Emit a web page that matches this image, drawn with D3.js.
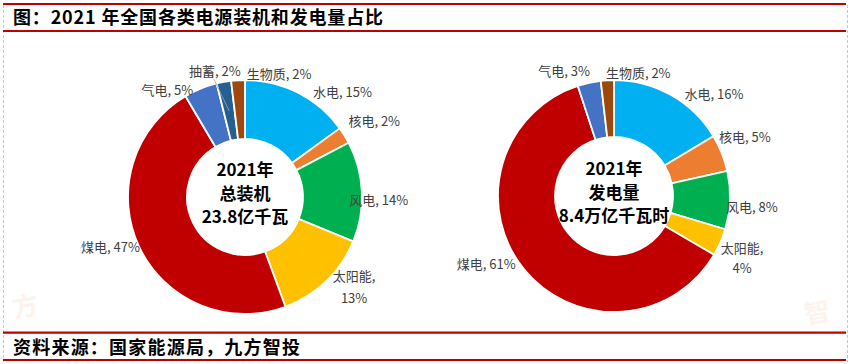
<!DOCTYPE html>
<html><head><meta charset="utf-8">
<script src="https://cdn.jsdelivr.net/npm/d3@7/dist/d3.min.js"></script>
<style>html,body{margin:0;padding:0;background:#fff;}svg{display:block;}</style>
</head><body>
<svg id="c" width="850" height="364"></svg>
<script>
// ---- data ----
const categoriesCap = ["水电","核电","风电","太阳能","煤电","气电","抽蓄","生物质"];
const valuesCap     = [15.05, 2.3, 13.9, 13.2, 47.2, 4.6, 2.0, 1.9];
const categoriesGen = ["水电","核电","风电","太阳能","煤电","气电","生物质"];
const valuesGen     = [16.2, 5.1, 8.0, 3.8, 60.8, 3.2, 1.8];
const centerCap = ["2021年","总装机","23.8亿千瓦"];
const centerGen = ["2021年","发电量","8.4万亿千瓦时"];
const titleText = "图：2021 年全国各类电源装机和发电量占比";
const sourceText = "资料来源：国家能源局，九方智投";

// ---- style / layout ----
const colorMap = {"水电":"#00B0F0","核电":"#ED7D31","风电":"#00B050","太阳能":"#FFC000",
  "煤电":"#C00000","气电":"#4472C4","抽蓄":"#255E91","生物质":"#9E480E"};
const nudgeCap = {"水电":[8.4,11.4],"核电":[-8,-8],"风电":[-26.6,8.9],"太阳能":[18.2,-5.4,22],
  "煤电":[13.3,-6.5],"气电":[-2.2,13.6],"抽蓄":[-6.4,1.9],"生物质":[9.5,7.1]};
const nudgeGen = {"水电":[6.6,10.2],"核电":[-15.7,-11.1],"风电":[-17.9,5.5],"太阳能":[8.9,8.7,20],
  "煤电":[2.9,-14],"气电":[3.8,1.3],"生物质":[-0.7,6.5]};

const svg = d3.select("#c");
const FONT = "'Noto Sans CJK SC','Noto Sans',sans-serif";

// frame
svg.append("line").attr("x1",3.5).attr("x2",3.5).attr("y1",5).attr("y2",362)
  .attr("stroke","#c8c8c8").attr("stroke-dasharray","3,2").attr("stroke-width",1);
svg.append("line").attr("x1",847.5).attr("x2",847.5).attr("y1",5).attr("y2",362)
  .attr("stroke","#c8c8c8").attr("stroke-dasharray","3,2").attr("stroke-width",1);
[4,31,332.7,360].forEach(y=>{
  svg.append("line").attr("x1",3).attr("x2",846).attr("y1",y).attr("y2",y)
    .attr("stroke","#C00000").attr("stroke-width",2.2);
});
svg.append("text").attr("x",13).attr("y",24).attr("font-family",FONT).attr("font-weight","bold")
  .attr("font-size",18).attr("fill","#000").attr("textLength",370).attr("lengthAdjust","spacing").text(titleText);
svg.append("text").attr("x",13).attr("y",353.5).attr("font-family",FONT).attr("font-weight","bold")
  .attr("font-size",18).attr("fill","#000").attr("textLength",287).attr("lengthAdjust","spacing").text(sourceText);

// faint watermark
svg.append("text").attr("transform","translate(14,318) rotate(-10)").attr("font-family",FONT)
  .attr("font-weight","bold").attr("font-size",26).attr("fill","#f6b98f").attr("opacity",0.16).text("方");
svg.append("text").attr("transform","translate(806,324) rotate(-10)").attr("font-family",FONT)
  .attr("font-weight","bold").attr("font-size",26).attr("fill","#f6b98f").attr("opacity",0.16).text("智");

function donut(cx, cy, rOuter, rInner, cats, vals, center, nudge, leaderCats){
  const g = svg.append("g").attr("transform",`translate(${cx},${cy})`);
  const data = cats.map((c,i)=>({cat:c, value:vals[i]}));
  const pie = d3.pie().value(d=>d.value).sort(null).startAngle(0).endAngle(2*Math.PI);
  const arcs = pie(data);
  const arc = d3.arc().innerRadius(rInner).outerRadius(rOuter);
  g.selectAll("path.s").data(arcs).enter().append("path").attr("class","s")
    .attr("d",arc).attr("fill",d=>colorMap[d.data.cat]).attr("stroke","#fff").attr("stroke-width",1.8);
  const total = d3.sum(vals);
  const Rl = rOuter + 14;
  arcs.forEach(a=>{
    const m = (a.startAngle + a.endAngle)/2;
    const s = Math.sin(m), c = Math.cos(m);
    const nd = nudge[a.data.cat] || [0,0];
    let x = Rl*s + nd[0], y = -Rl*c + nd[1];
    const pct = Math.round(a.data.value/total*100) + "%";
    let anchor = s > 0 ? "start" : "end";
    if (leaderCats.includes(a.data.cat)) anchor = "middle";
    if (a.data.cat === "生物质") anchor = "start";
    const t = g.append("text").attr("font-family",FONT).attr("font-size",13).attr("fill","#404040")
      .attr("text-anchor", nd.length>2 ? "middle" : anchor).attr("dominant-baseline","central");
    if (nd.length>2){
      const sp = nd[2];
      t.append("tspan").attr("x",x).attr("y",y-sp/2).text(a.data.cat+",");
      t.append("tspan").attr("x",x).attr("y",y+sp/2).text(pct);
    } else {
      t.attr("x",x).attr("y",y).text(a.data.cat+", "+pct);
    }
    if (leaderCats.includes(a.data.cat)){
      const rc = (rOuter + rInner)/2;
      g.append("line").attr("x1",x-1).attr("y1",y+9).attr("x2",rc*s).attr("y2",-rc*c)
        .attr("stroke","#a6a6a6").attr("stroke-width",0.8);
    }
  });
  const offs = [-29,-5,18.5];
  center.forEach((txt,i)=>{
    g.append("text").attr("x",0).attr("y",offs[i]).attr("text-anchor","middle").attr("dominant-baseline","central")
      .attr("font-family",FONT).attr("font-weight","bold").attr("font-size",17).attr("fill","#000").text(txt);
  });
}
donut(245,197,117,58,categoriesCap,valuesCap,centerCap,nudgeCap,["抽蓄"]);
donut(614,196,116,59,categoriesGen,valuesGen,centerGen,nudgeGen,[]);
</script>
</body></html>
